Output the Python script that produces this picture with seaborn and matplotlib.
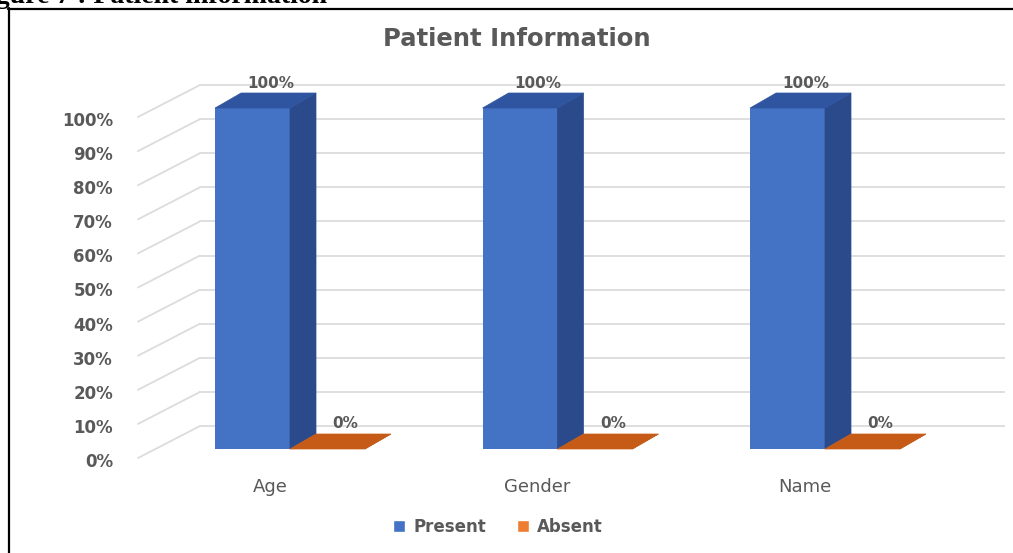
import matplotlib
matplotlib.use("Agg")
import matplotlib.pyplot as plt
import numpy as np
import pandas as pd
import seaborn as sns
from matplotlib.patches import Polygon, Patch
from matplotlib.lines import Line2D
from matplotlib.transforms import ScaledTranslation, IdentityTransform

# ---- data -------------------------------------------------------------
categories = ["Age", "Gender", "Name"]
series = ["Present", "Absent"]
present = [1.00, 1.00, 1.00]
absent = [0.00, 0.00, 0.00]
y_ticks = [0.0, 0.1, 0.2, 0.3, 0.4, 0.5, 0.6, 0.7, 0.8, 0.9, 1.0]
y_tick_labels = ["0%", "10%", "20%", "30%", "40%", "50%",
                 "60%", "70%", "80%", "90%", "100%"]

# ---- style ------------------------------------------------------------
W, H = 1013, 553
BLUE, BLUE_TOP, BLUE_SIDE = "#4472C4", "#2F55A0", "#2A4A8B"
ORANGE, ORANGE_TOP, ORANGE_SIDE = "#ED7D31", "#C65B17", "#A94D12"
GRAY = "#595959"
GRID = "#DCDCDC"
DEPTH = (26, 15)  # 3-D extrusion of each column, in pixels

sns.set_theme(style="white")
plt.rcParams["font.family"] = ["DejaVu Sans"]

fig = plt.figure(figsize=(W / 100, H / 100), dpi=100, facecolor="white")


def px_box(left, top, right, bottom):
    return [left / W, 1 - bottom / H, (right - left) / W, (bottom - top) / H]


ax = fig.add_axes(px_box(130, 60, 1005, 470))
ax.set_facecolor("none")

df = pd.DataFrame({
    "field": categories * 2,
    "share": present + absent,
    "status": [series[0]] * len(categories) + [series[1]] * len(categories),
})

sns.barplot(df, x="field", y="share", hue="status", hue_order=series,
            palette=[BLUE, ORANGE], width=0.56, gap=0, saturation=1,
            errorbar=None, legend=False, linewidth=0, zorder=3, ax=ax)

# value 0 sits at the column base, value 1 at the column top
ax.set_ylim(-(470 - 449) / 341, 1 + (108 - 60) / 341)
ax.set_xlim((130 - 290) / 267.5, (1005 - 290) / 267.5)
ax.set_autoscale_on(False)
for s in ax.spines.values():
    s.set_visible(False)
ax.grid(False)
ax.set_xlabel("")
ax.set_ylabel("")

ax.set_yticks(y_ticks, y_tick_labels)
ax.tick_params(axis="y", length=0, pad=12.2, labelsize=12, labelcolor=GRAY)
ax.tick_params(axis="x", length=0, pad=6, labelsize=13, labelcolor=GRAY)
for lab in ax.get_yticklabels():
    lab.set_fontweight("bold")
    lab.set_transform(lab.get_transform()
                      + ScaledTranslation(0, -0.11, fig.dpi_scale_trans))
for lab in ax.get_xticklabels():
    lab.set_transform(lab.get_transform()
                      + ScaledTranslation(-0.20, 0, fig.dpi_scale_trans))


def disp(x, y):
    return ax.transData.transform((x, y))


# back-wall gridlines with the perspective ticks running to the labels
for v in y_ticks:
    _, yd = disp(0, v)
    back = yd + 23
    front = yd - 9
    ax.add_artist(Line2D([200, 1005], [back, back], transform=IdentityTransform(),
                         color=GRID, lw=1.3, zorder=1))
    ax.add_artist(Line2D([138, 200], [front, back], transform=IdentityTransform(),
                         color=GRID, lw=1.3, zorder=1))

# extrude the seaborn bars into 3-D columns
bars = list(ax.patches)
shades = ([(BLUE_TOP, BLUE_SIDE, 3)] * len(categories)
          + [(ORANGE_TOP, ORANGE_SIDE, 4)] * len(categories))
dx, dy = DEPTH
for p, (top_c, side_c, z) in zip(bars, shades):
    x0 = p.get_x()
    x1 = x0 + p.get_width()
    h = p.get_height()
    X0, Y0 = disp(x0, 0)
    X1, Y1 = disp(x1, h)
    top = [(X0, Y1), (X1, Y1), (X1 + dx, Y1 + dy), (X0 + dx, Y1 + dy)]
    side = [(X1, Y0), (X1, Y1), (X1 + dx, Y1 + dy), (X1 + dx, Y0 + dy)]
    for verts, c in ((side, side_c), (top, top_c)):
        ax.add_artist(Polygon(verts, closed=True, transform=IdentityTransform(),
                              facecolor=c, edgecolor=c, lw=0.5, zorder=z,
                              clip_on=False))
    ax.annotate(f"{h:.0%}", xy=(x0 + p.get_width() / 2, h), xytext=(18, 25),
                textcoords="offset pixels", ha="center", va="center",
                fontsize=11, fontweight="bold", color=GRAY, zorder=5)

# title and legend
fig.text(517 / W, 1 - 39 / H, "Patient Information", ha="center", va="center",
         fontsize=17.5, fontweight="bold", color=GRAY)
handles = [Patch(facecolor=BLUE), Patch(facecolor=ORANGE)]
fig.legend(handles, series, loc="center", bbox_to_anchor=(498 / W, 1 - 527 / H),
           ncol=2, frameon=False, prop={"size": 12, "weight": "bold"},
           labelcolor=GRAY, handlelength=0.75, handleheight=0.75,
           handletextpad=0.5, columnspacing=1.8)

# frame around the chart and the caption above it
fig.add_artist(Line2D([8 / W, 1], [1 - 8.5 / H] * 2, transform=fig.transFigure,
                      color="black", lw=1.6))
fig.add_artist(Line2D([8.5 / W] * 2, [0, 1 - 8 / H], transform=fig.transFigure,
                      color="black", lw=1.6))
fig.text(327 / W, 1 - 3 / H, "Figure 7 : Patient information", ha="right",
         va="baseline", fontsize=20, fontweight="bold",
         family=["Liberation Serif", "DejaVu Serif"], color="black")

fig.savefig("out.png", dpi=100, facecolor="white")
